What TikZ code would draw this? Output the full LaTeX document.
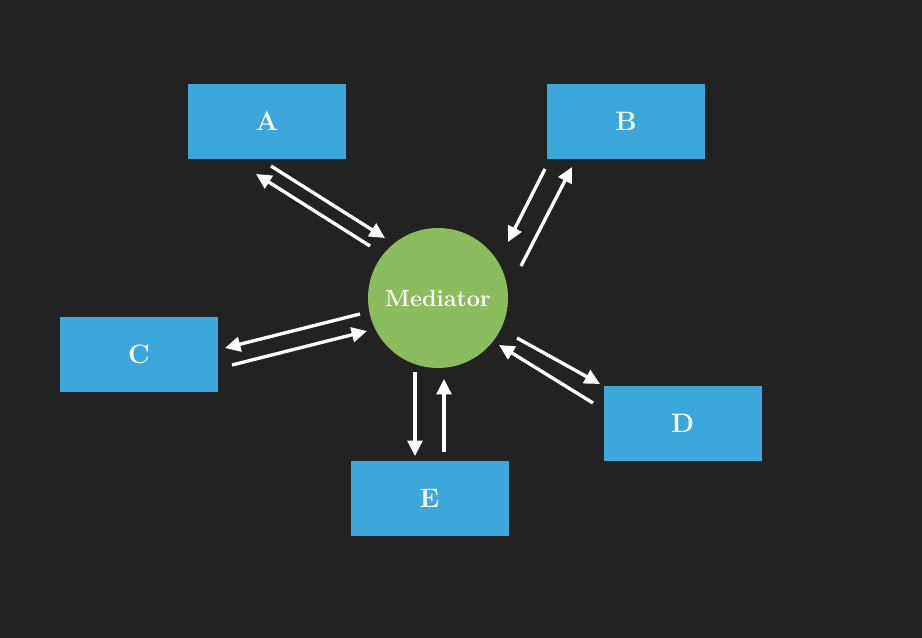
\documentclass[tikz,border=0pt]{standalone}
\usepackage{fontspec}
\usetikzlibrary{arrows.meta}
\definecolor{bgdark}{HTML}{222222}
\definecolor{boxblue}{HTML}{3BA7DA}
\definecolor{medgreen}{HTML}{8BBD5E}
\tikzset{
  unit/.style={fill=boxblue, minimum width=118.5pt, minimum height=56.25pt, inner sep=0pt, text=white, font=\fontsize{20}{24}\selectfont\bfseries},
  msg/.style={draw=white, line width=2.5pt, -{Triangle[length=11.5pt,width=11pt]}}
}
\begin{document}
\begin{tikzpicture}[x=0.75pt,y=-0.75pt]
				\fill[bgdark] (0,0) rectangle (922,638);
				\useasboundingbox (0,0) rectangle (922,638);
				\node[circle, fill=medgreen, minimum size=105pt, inner sep=0pt, text=white, font=\fontsize{17.5}{20}\selectfont\bfseries] (med) at (438,298) {Mediator};
				\node[unit] (a) at (267,121.5) {A};
				\node[unit] (b) at (626,121.5) {B};
				\node[unit] (c) at (139,354.5) {C};
				\node[unit] (d) at (682.5,423.5) {D};
				\node[unit] (e) at (429.5,498.5) {E};
				% A
				\coordinate (a1) at (271,166);
				\coordinate (a2) at (385,238);
				\coordinate (a3) at (370,246);
				\coordinate (a4) at (256,174);
				\draw[msg] (a1) -- (a2);
				\draw[msg] (a3) -- (a4);
				% B
				\coordinate (b1) at (545,169);
				\coordinate (b2) at (508,242);
				\coordinate (b3) at (521,266);
				\coordinate (b4) at (572,167);
				\draw[msg] (b1) -- (b2);
				\draw[msg] (b3) -- (b4);
				% C
				\coordinate (c1) at (360,314);
				\coordinate (c2) at (225,348);
				\coordinate (c3) at (232,365);
				\coordinate (c4) at (367,331);
				\draw[msg] (c1) -- (c2);
				\draw[msg] (c3) -- (c4);
				% D
				\coordinate (d1) at (517,338);
				\coordinate (d2) at (600,384);
				\coordinate (d3) at (593,403);
				\coordinate (d4) at (499,345);
				\draw[msg] (d1) -- (d2);
				\draw[msg] (d3) -- (d4);
				% E
				\coordinate (e1) at (415,372);
				\coordinate (e2) at (415,456);
				\coordinate (e3) at (444,452);
				\coordinate (e4) at (444,379);
				\draw[msg] (e1) -- (e2);
				\draw[msg] (e3) -- (e4);
\end{tikzpicture}
\end{document}
